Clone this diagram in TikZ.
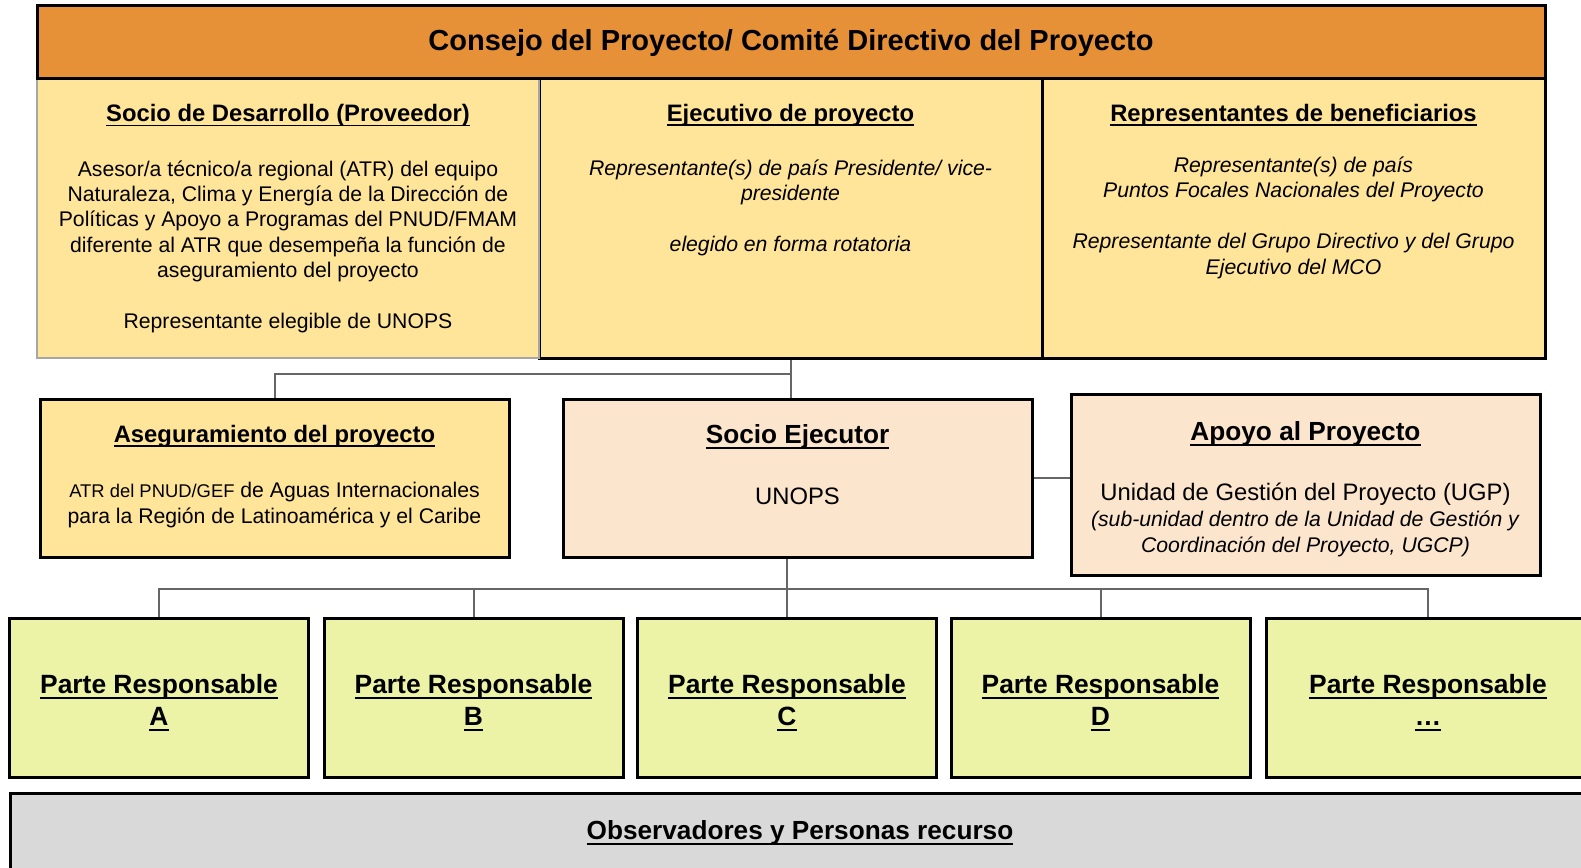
\documentclass[tikz,border=0pt]{standalone}
\usepackage{fontspec}
\setmainfont{Liberation Sans}
\usetikzlibrary{positioning}

\definecolor{consejo}{HTML}{E69138}
\definecolor{amarillo}{HTML}{FFE599}
\definecolor{durazno}{HTML}{FCE5CD}
\definecolor{lima}{HTML}{EDF3A6}
\definecolor{gris}{HTML}{D9D9D9}
\definecolor{linea}{HTML}{666666}

\newcommand{\subr}[1]{\setbox0=\hbox{#1}\rlap{\rule[-0.2em]{\wd0}{0.9pt}}\box0}
\newcommand{\enc}[2]{{\fontsize{#1}{#1}\selectfont\bfseries\subr{#2}}}

\tikzset{
	caja/.style={draw=black, line width=1.5pt, inner sep=0pt, align=center},
	celda/.style={caja, fill=amarillo, minimum width=251.5pt, minimum height=140pt},
	texto/.style={align=center, inner sep=0pt, font=\fontsize{10.6}{12.7}\selectfont},
	parte/.style={caja, fill=lima, minimum width=149.5pt, minimum height=79.5pt, font=\fontsize{13.2}{16}\selectfont\bfseries},
	enlace/.style={draw=linea, line width=1pt},
}

\begin{document}
\begin{tikzpicture}[x=0.5pt, y=-0.5pt]
	\useasboundingbox (0,0) rectangle (1581,868);

	% consejo del proyecto
	\node[celda] (ejecutivo) at (790.5,218) {};
	\node[celda] (beneficiarios) at (1293.5,218) {};
	\node[celda, draw=gray!70, line width=1pt, minimum width=251pt] (socio) at (288,218) {};
	\node[caja, fill=consejo, minimum width=754pt, minimum height=36.5pt, font=\fontsize{14.5}{17}\selectfont\bfseries] (consejo) at (791,41.5) {\rule{0pt}{12.5pt}Consejo del Proyecto/ Comité Directivo del Proyecto};

	\node[texto, below=13.5pt of socio.north] (socio-txt) {\enc{11.9}{Socio de Desarrollo (Proveedor)}\\[14.5pt]
		Asesor/a técnico/a regional (ATR) del equipo\\
		Naturaleza, Clima y Energía de la Dirección de\\
		Políticas y Apoyo a Programas del PNUD/FMAM\\
		diferente al ATR que desempeña la función de\\
		aseguramiento del proyecto\\[12.7pt]
		Representante elegible de UNOPS};
	\node[texto, below=13.5pt of ejecutivo.north] (ejecutivo-txt) {\enc{11.9}{Ejecutivo de proyecto}\\[14.5pt]
		\textit{Representante(s) de país Presidente/ vice-}\\
		\textit{presidente}\\[12.7pt]
		\textit{elegido en forma rotatoria}};
	\node[texto, below=13.5pt of beneficiarios.north] (beneficiarios-txt) {\enc{11.9}{Representantes de beneficiarios}\\[13pt]
		\textit{Representante(s) de país}\\
		\textit{Puntos Focales Nacionales del Proyecto}\\[12.7pt]
		\textit{Representante del Grupo Directivo y del Grupo}\\
		\textit{Ejecutivo del MCO}};

	% segundo nivel
	\node[caja, fill=amarillo, minimum width=234.5pt, minimum height=79pt] (aseg) at (274.5,478) {};
	\node[caja, fill=durazno, minimum width=234.5pt, minimum height=79pt] (ejecutor) at (797.5,478) {};
	\node[caja, fill=durazno, minimum width=234.5pt, minimum height=90.5pt] (apoyo) at (1305.5,484.5) {};

	\node[texto, font=\fontsize{10.6}{13}\selectfont, below=13.5pt of aseg.north] (aseg-txt) {\enc{11.9}{Aseguramiento del proyecto}\\[14.5pt]
		{\fontsize{9.2}{11}\selectfont ATR del PNUD/GEF} de Aguas Internacionales\\
		para la Región de Latinoamérica y el Caribe};
	\node[texto, font=\fontsize{11.9}{14}\selectfont, below=13.5pt of ejecutor.north] (ejecutor-txt) {\enc{13.1}{Socio Ejecutor}\\[16.3pt]
		UNOPS};
	\node[texto, font=\fontsize{10.6}{13}\selectfont, below=14.25pt of apoyo.north] (apoyo-txt) {\enc{13.1}{Apoyo al Proyecto}\\[17pt]
		{\fontsize{11.9}{14}\selectfont Unidad de Gestión del Proyecto (UGP)}\\
		\textit{(sub-unidad dentro de la Unidad de Gestión y}\\
		\textit{Coordinación del Proyecto, UGCP)}};

	% partes responsables
	\node[parte] (parteA) at (159,697.5) {\rule{0pt}{14.5pt}\subr{Parte Responsable}\\\subr{A}};
	\node[parte] (parteB) at (473.5,697.5) {\rule{0pt}{14.5pt}\subr{Parte Responsable}\\\subr{B}};
	\node[parte] (parteC) at (787,697.5) {\rule{0pt}{14.5pt}\subr{Parte Responsable}\\\subr{C}};
	\node[parte] (parteD) at (1100.5,697.5) {\rule{0pt}{14.5pt}\subr{Parte Responsable}\\\subr{D}};
	\node[parte, overlay, minimum width=162pt] (parteE) at (1428,697.5) {\rule{0pt}{14.5pt}\subr{Parte Responsable}\\\subr{…}};

	\node[caja, overlay, fill=gris, minimum width=790pt, minimum height=38.5pt, font=\fontsize{13.1}{16}\selectfont\bfseries] (observadores) at (800,831.5) {\rule{0pt}{11pt}\subr{Observadores y Personas recurso}};

	\draw[enlace] (ejecutivo.south) -- (ejecutivo.south |- ejecutor.north);
	\draw[enlace] (ejecutivo.south) ++(0,14) -| (aseg.north);
	\draw[enlace] (ejecutor.east) -- (ejecutor.east -| apoyo.west);
	\draw[enlace] (ejecutor.south -| parteC.north) -- (parteC.north);
	\draw[enlace] (parteA.north) -- ++(0,-28) -| (parteE.north);
	\draw[enlace] (parteB.north) -- ++(0,-28);
	\draw[enlace] (parteD.north) -- ++(0,-28);
\end{tikzpicture}
\end{document}
